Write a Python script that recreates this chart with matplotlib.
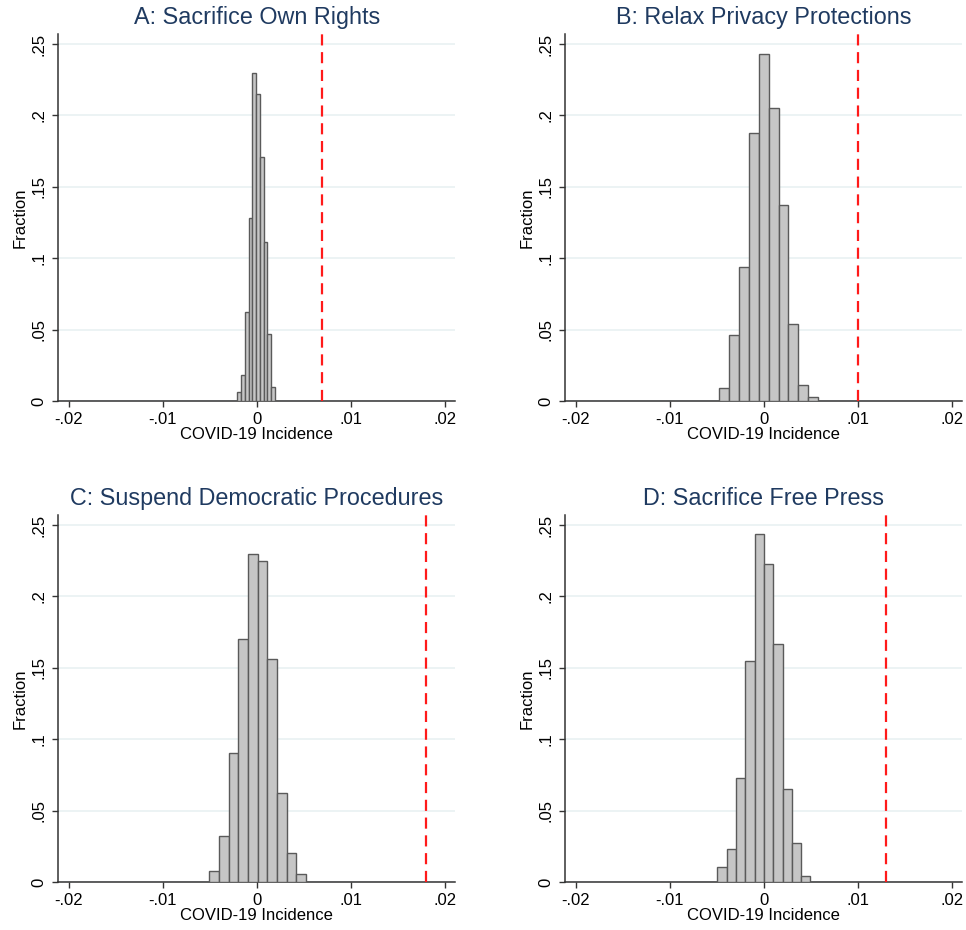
import matplotlib
matplotlib.use("Agg")
import matplotlib.pyplot as plt

plt.rcParams['font.family'] = ['Liberation Sans', 'DejaVu Sans']

titles = ["A: Sacrifice Own Rights", "B: Relax Privacy Protections",
          "C: Suspend Democratic Procedures", "D: Sacrifice Free Press"]

edges_a = [-0.00205, -0.00165, -0.00125, -0.00085, -0.00045, -0.00005,
           0.00035, 0.00075, 0.00115, 0.00155, 0.00195]
frac_a = [0.006, 0.018, 0.062, 0.128, 0.230, 0.215, 0.171, 0.111, 0.047, 0.010]

edges_b = [-0.00476, -0.00370, -0.00264, -0.00159, -0.00053, 0.00053,
           0.00159, 0.00264, 0.00370, 0.00476, 0.00581]
frac_b = [0.009, 0.046, 0.094, 0.188, 0.243, 0.205, 0.137, 0.054, 0.011, 0.003]

edges_c = [-0.00505, -0.00402, -0.00299, -0.00196, -0.00093, 0.00010,
           0.00113, 0.00216, 0.00319, 0.00422, 0.00525]
frac_c = [0.0075, 0.032, 0.090, 0.170, 0.230, 0.225, 0.156, 0.0625, 0.020, 0.0056]

edges_d = [-0.00492, -0.00393, -0.00294, -0.00195, -0.00096, 0.00003,
           0.00102, 0.00201, 0.00300, 0.00399, 0.00498]
frac_d = [0.0103, 0.023, 0.073, 0.155, 0.244, 0.2225, 0.167, 0.065, 0.027, 0.0042]

actual_effect = [0.007, 0.010, 0.018, 0.013]

xticks = [-0.02, -0.01, 0, 0.01, 0.02]
xticklabels = ["-.02", "-.01", "0", ".01", ".02"]
yticks = [0, 0.05, 0.1, 0.15, 0.2, 0.25]
yticklabels = ["0", ".05", ".1", ".15", ".2", ".25"]

edges_all = [edges_a, edges_b, edges_c, edges_d]
frac_all = [frac_a, frac_b, frac_c, frac_d]

W, H = 966, 930
fig = plt.figure(figsize=(W / 100, H / 100), dpi=100)

positions = [
    (58.3, 34, 455, 401),
    (565.3, 34, 962, 401),
    (58.3, 515, 455, 882),
    (565.3, 515, 962, 882),
]

title_color = "#1F3A60"
for i, (x0, y0, x1, y1) in enumerate(positions):
    ax = fig.add_axes([x0 / W, 1 - y1 / H, (x1 - x0) / W, (y1 - y0) / H])
    edges = edges_all[i]
    fr = frac_all[i]
    centers = [(edges[k] + edges[k + 1]) / 2 for k in range(len(fr))]
    ax.hist(centers, bins=edges, weights=fr, facecolor="#C6C6C6",
            edgecolor="#5A5A5A", linewidth=1.0, zorder=3)
    ax.axvline(actual_effect[i], color="#FF1A1A", linestyle=(0, (5, 3)),
               linewidth=1.6, zorder=4)
    ax.set_xlim(-0.0211, 0.0211)
    ax.set_ylim(0, 0.257)
    ax.set_xticks(xticks)
    ax.set_xticklabels(xticklabels)
    ax.set_yticks(yticks)
    ax.set_yticklabels(yticklabels, rotation=90, va="center")
    ax.grid(axis="y", color="#EAF2F3", linewidth=1.3, zorder=0)
    ax.set_axisbelow(True)
    for s in ["top", "right"]:
        ax.spines[s].set_visible(False)
    for s in ["left", "bottom"]:
        ax.spines[s].set_color("#333333")
        ax.spines[s].set_linewidth(1.1)
    ax.tick_params(axis="both", length=4.5, width=1.0, color="#333333",
                   labelsize=12, labelcolor="black", pad=3.5)
    ax.tick_params(axis="y", pad=4)
    ax.set_xlabel("COVID-19 Incidence", fontsize=12, labelpad=0)
    ax.set_ylabel("Fraction", fontsize=12, labelpad=3)
    ax.set_title(titles[i], fontsize=16.8, color=title_color, pad=7)

fig.savefig("out.png", dpi=100, facecolor="white")
